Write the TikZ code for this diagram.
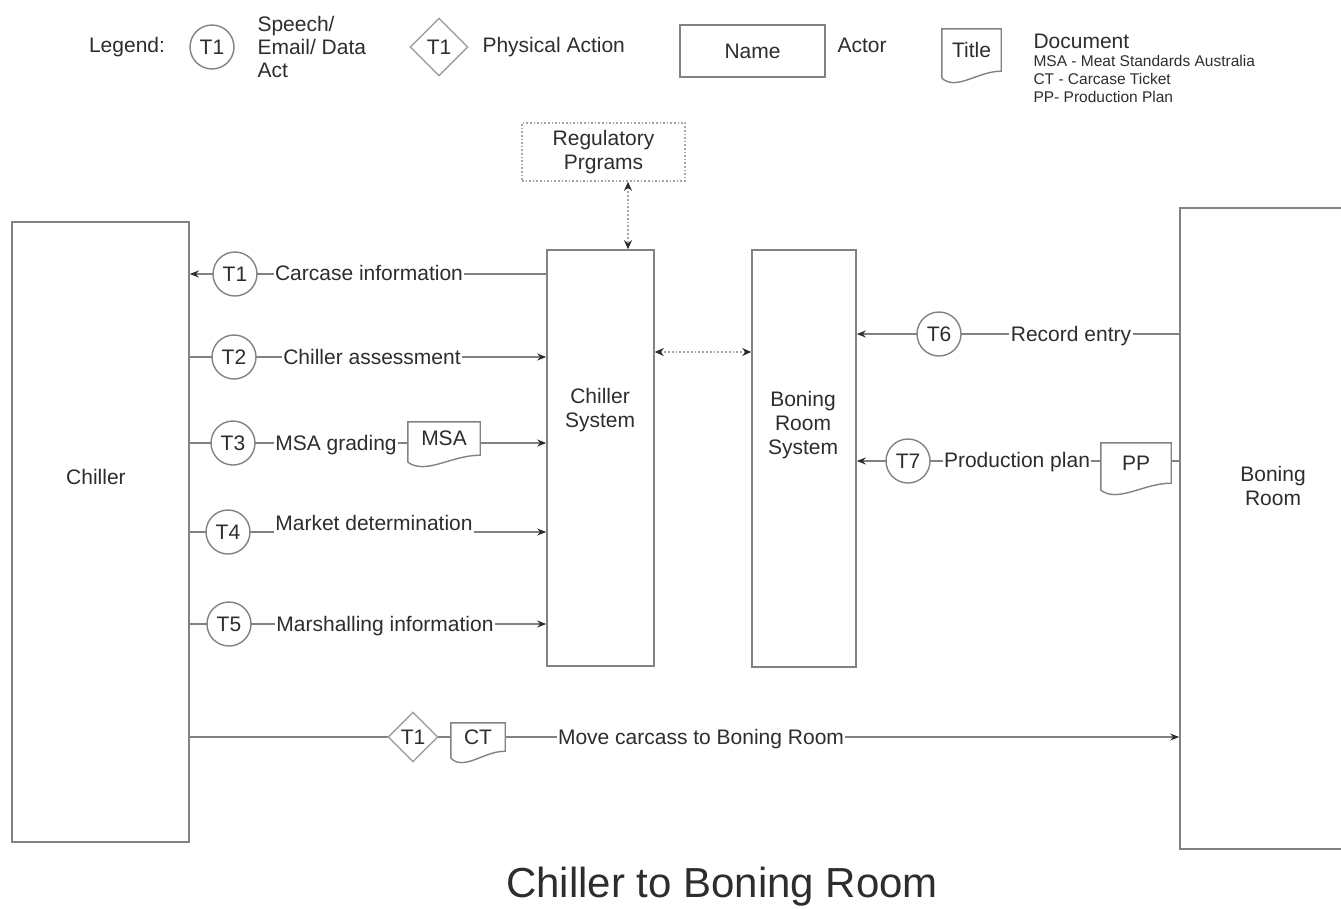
\documentclass[tikz,border=0pt]{standalone}
\usepackage{fontspec}
\setmainfont{Liberation Sans}
\usetikzlibrary{shapes,arrows.meta,positioning,calc,fit,backgrounds}

\definecolor{linegray}{RGB}{130,130,130}
\definecolor{dotgray}{RGB}{165,165,165}
\definecolor{textgray}{RGB}{45,45,45}

\newcommand{\docwave}[1]{%
  \draw[docline] ($(#1.south west)+(0,7)$) -- (#1.north west) -- (#1.north east) -- (#1.south east)
    .. controls ($(#1.south east)!0.4!(#1.south west)$) and ($(#1.south east)!0.75!(#1.south west)+(0,20)$) .. ($(#1.south west)+(0,7)$);}

\begin{document}
\begin{tikzpicture}[x=1pt, y=-1pt,
  font=\fontsize{21}{24}\selectfont, text=textgray,
  actor/.style={
    draw=linegray, line width=1.6pt, rectangle, fill=white
  },
  trans/.style={
    draw=linegray, line width=1.4pt, circle, minimum size=44pt,
    inner sep=0pt, fill=white
  },
  phys/.style={
    draw=linegray!75, line width=1.4pt, diamond, aspect=1,
    inner sep=0pt, fill=white
  },
  doc/.style={rectangle, inner sep=0pt, fill=white},
  docline/.style={draw=linegray, line width=1.4pt},
  lbl/.style={fill=white, inner sep=1.5pt, text height=15pt, text depth=4pt},
  flow/.style={->, >={Stealth[length=9pt,width=7pt,color=textgray]}, draw=linegray, line width=1.4pt},
  dflow/.style={<->, >={Stealth[length=9pt,width=8pt,color=textgray]}, draw=dotgray, line width=1.8pt, dotted}
]
\useasboundingbox (0,0) rectangle (1341,908);

% legend
\node (leg) at (127,47) {Legend:};
\node[trans] (legcirc) at (212,47) {T1};
\node[anchor=west, align=left, font=\fontsize{21}{23}\selectfont] (legspeech) at (254,47) {Speech/\\Email/ Data\\Act};
\node[phys, minimum size=58pt] (legdiam) at (439,47) {T1};
\node[anchor=west] (legphys) at (479,47) {Physical Action};
\node[actor, minimum width=145pt, minimum height=52pt] (legactor) at (752.5,51) {Name};
\node[anchor=west] (legactorlbl) at (834,45) {Actor};
\node[doc, minimum width=59pt, minimum height=42pt] (legdoc) at (971.5,50) {Title};
\node[anchor=west] (legdoctxt) at (1030,41) {Document};
\node[anchor=west, align=left, font=\fontsize{15.5}{18}\selectfont] (legabbr) at (1030,79)
  {MSA - Meat Standards Australia\\CT - Carcase Ticket\\PP- Production Plan};

% actors and systems
\node[actor, minimum width=177pt, minimum height=620pt] (chiller) at (100.5,532) {};
\node (chillerlbl) at (96,477) {Chiller};
\node[actor, minimum width=175pt, minimum height=641pt] (boning) at (1267.5,528.5) {};
\node[align=center] (boninglbl) at (1273,486) {Boning\\Room};
\node[actor, minimum width=107pt, minimum height=416pt] (csys) at (600.5,458) {};
\node[align=center] (csyslbl) at (600,410) {Chiller\\System};
\node[actor, minimum width=104pt, minimum height=417pt] (bsys) at (804,458.5) {};
\node[align=center] (bsyslbl) at (803,425) {Boning\\Room\\System};
\node[actor, draw=dotgray, dotted, line width=1.6pt, minimum width=163pt, minimum height=58pt, align=center]
  (regprog) at (603.5,152) {Regulatory\\Prgrams};

% transactions
\node[trans] (t1) at (235,274) {T1};
\node[trans] (t2) at (234,357) {T2};
\node[trans] (t3) at (233,443) {T3};
\node[trans] (t4) at (228,532) {T4};
\node[trans] (t5) at (229,624) {T5};
\node[trans] (t6) at (939,334) {T6};
\node[trans] (t7) at (908,461) {T7};
\node[phys, minimum size=50pt] (move) at (413,737) {T1};

\node[lbl] (lcarcase) at (369,275) {Carcase information};
\node[lbl] (lassess) at (372,359) {Chiller assessment};
\node[lbl] (lgrading) at (336,445) {MSA grading};
\node[lbl] (lmarket) at (374,525) {Market determination};
\node[lbl] (lmarshal) at (385,626) {Marshalling information};
\node[lbl] (lrecord) at (1071,336) {Record entry};
\node[lbl] (lplan) at (1017,462) {Production plan};
\node[lbl] (lmove) at (701,739) {Move carcass to Boning Room};

% documents
\node[doc, minimum width=72pt, minimum height=33pt] (msa) at (444,438.5) {MSA};
\node[doc, minimum width=70pt, minimum height=40pt] (pp) at (1136,463) {PP};
\node[doc, minimum width=54pt, minimum height=28pt] (ct) at (478,737) {CT};
\docwave{legdoc}
\docwave{msa}
\docwave{pp}
\docwave{ct}

\coordinate (regmid) at (628,215);
\coordinate (sysmid) at (703,352);

\begin{scope}[on background layer]
\draw[flow] (csys.west |- t1) -- (chiller.east |- t1);
\draw[flow] (chiller.east |- t2) -- (csys.west |- t2);
\draw[flow] (chiller.east |- t3) -- (csys.west |- t3);
\draw[flow] (chiller.east |- t4) -- (csys.west |- t4);
\draw[flow] (chiller.east |- t5) -- (csys.west |- t5);
\draw[flow] (boning.west |- t6) -- (bsys.east |- t6);
\draw[flow] (boning.west |- t7) -- (bsys.east |- t7);
\draw[flow] (chiller.east |- move) -- (boning.west |- move);
\draw[dflow] (regprog.south -| regmid) -- (csys.north -| regmid);
\draw[dflow] (csys.east |- sysmid) -- (bsys.west |- sysmid);
\end{scope}

\node[font=\fontsize{42}{48}\selectfont] (title) at (722,887) {Chiller to Boning Room};

\end{tikzpicture}
\end{document}
